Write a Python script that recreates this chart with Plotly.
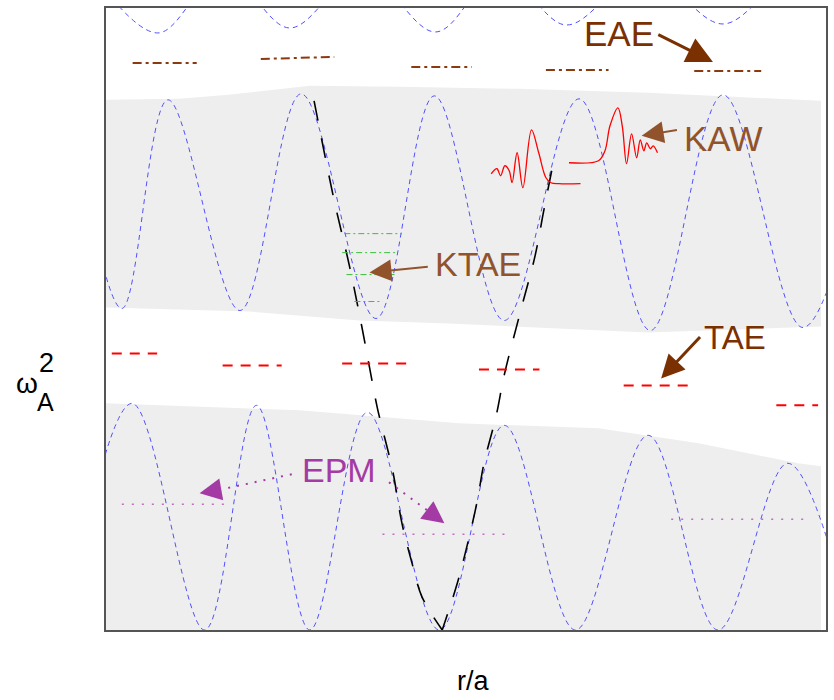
import plotly.graph_objects as go

# ---- Alfven continuum sketch: r/a on x, omega_A^2 (arbitrary units) on y ----

# shaded continuum bands (boundaries)
upper_band_top_x = [0.0, 0.102, 0.170, 0.230, 0.283, 0.407, 0.573, 0.753, 0.993]
upper_band_top_y = [5.31, 5.32, 5.36, 5.41, 5.45, 5.44, 5.42, 5.38, 5.30]
upper_band_bot_x = [0.0, 0.199, 0.352, 0.476, 0.753, 0.993]
upper_band_bot_y = [3.23, 3.19, 3.10, 3.07, 2.98, 3.04]
lower_band_top_x = [0.0, 0.269, 0.490, 0.684, 0.823, 0.961, 0.993]
lower_band_top_y = [2.27, 2.20, 2.07, 2.02, 1.87, 1.67, 1.64]
lower_band_bot_x = [0.0, 0.993]
lower_band_bot_y = [0.0, 0.0]

# continuum branches (extrema of each oscillating branch)
top_branch_x = [-0.021, 0.072, 0.163, 0.255, 0.356, 0.458, 0.548, 0.639, 0.748, 0.857, 0.961, 1.058]
top_branch_y = [6.60, 5.98, 6.60, 6.03, 6.60, 5.99, 6.60, 6.06, 6.60, 6.07, 6.60, 6.10]
mid_branch_x = [-0.050, 0.022, 0.086, 0.186, 0.271, 0.375, 0.456, 0.553, 0.657, 0.756, 0.857, 0.968, 1.072]
mid_branch_y = [5.30, 3.22, 5.31, 3.20, 5.37, 3.12, 5.35, 3.10, 5.32, 3.00, 5.36, 3.03, 5.35]
low_branch_x = [-0.057, 0.036, 0.137, 0.209, 0.283, 0.363, 0.463, 0.553, 0.652, 0.753, 0.850, 0.947, 1.037]
low_branch_y = [0.0, 2.27, 0.0, 2.25, 0.0, 2.18, 0.0, 2.05, 0.0, 1.95, 0.0, 1.67, 0.0]

# kinetic (KAW) dispersion branches
kin_left_x = [0.289, 0.317, 0.338, 0.355, 0.366, 0.377, 0.398, 0.411, 0.425, 0.439, 0.467]
kin_left_y = [5.30, 4.30, 3.65, 3.05, 2.63, 2.22, 1.60, 1.07, 0.67, 0.33, 0.0]
kin_right_x = [0.619, 0.608, 0.596, 0.576, 0.553, 0.542, 0.525, 0.515, 0.500, 0.488, 0.467]
kin_right_y = [4.60, 4.20, 3.75, 3.20, 2.55, 2.15, 1.67, 1.27, 0.80, 0.47, 0.0]

# discrete eigenmode levels: (x start, x end, y)
eae_levels = [(0.037, 0.126, 5.68, 5.68), (0.215, 0.317, 5.72, 5.74), (0.424, 0.508, 5.64, 5.64),
              (0.611, 0.698, 5.61, 5.61), (0.817, 0.910, 5.60, 5.60)]
tae_levels = [(0.008, 0.071, 2.77), (0.162, 0.244, 2.65), (0.328, 0.417, 2.67),
              (0.518, 0.602, 2.61), (0.719, 0.809, 2.45), (0.931, 0.989, 2.25)]
ktae_levels = [(0.331, 0.411, 3.97), (0.328, 0.403, 3.78), (0.334, 0.403, 3.56), (0.345, 0.384, 3.29)]
epm_levels = [(0.022, 0.165, 1.26), (0.384, 0.560, 0.96), (0.785, 0.971, 1.11)]

# kinetic Alfven wave packets
kaw1_x = [0.535, 0.543, 0.548, 0.554, 0.560, 0.564, 0.571, 0.579, 0.591, 0.601, 0.611, 0.618, 0.629, 0.659]
kaw1_y = [4.57, 4.62, 4.55, 4.65, 4.60, 4.48, 4.78, 4.43, 5.01, 4.78, 4.53, 4.48, 4.47, 4.47]
kaw2_x = [0.643, 0.684, 0.693, 0.700, 0.711, 0.717, 0.723, 0.730, 0.737, 0.742, 0.747, 0.751, 0.756, 0.760, 0.766]
kaw2_y = [4.68, 4.70, 4.80, 5.05, 5.23, 5.05, 4.67, 4.97, 4.73, 4.91, 4.80, 4.88, 4.82, 4.85, 4.78]

GRAY = "rgb(238,238,238)"
BLUE = "rgb(80,80,255)"
BROWN = "#7a3000"
LBROWN = "#91532b"
MAGENTA = "#a43aa4"

fig = go.Figure()


def band(top_x, top_y, bot_x, bot_y):
    xs = list(top_x) + list(reversed(bot_x))
    ys = list(top_y) + list(reversed(bot_y))
    fig.add_trace(go.Scatter(x=xs, y=ys, mode="lines", fill="toself", fillcolor=GRAY,
                             line=dict(width=0, color=GRAY), hoverinfo="skip", showlegend=False))


band(upper_band_top_x, upper_band_top_y, upper_band_bot_x, upper_band_bot_y)
band(lower_band_top_x, lower_band_top_y, lower_band_bot_x, lower_band_bot_y)

for bx, by in [(top_branch_x, top_branch_y), (mid_branch_x, mid_branch_y), (low_branch_x, low_branch_y)]:
    fig.add_trace(go.Scatter(x=bx, y=by, mode="lines", line_shape="spline",
                             line=dict(color=BLUE, width=1, dash="5px,4px"),
                             hoverinfo="skip", showlegend=False))

for kx, ky in [(kin_left_x, kin_left_y), (kin_right_x, kin_right_y)]:
    fig.add_trace(go.Scatter(x=kx, y=ky, mode="lines", line_shape="spline",
                             line=dict(color="black", width=1.6, dash="20px,18px"),
                             hoverinfo="skip", showlegend=False))

for x0, x1, y0, y1 in eae_levels:
    fig.add_trace(go.Scatter(x=[x0, x1], y=[y0, y1], mode="lines",
                             line=dict(color="#8b3a0f", width=2, dash="9px,4px,3px,4px"),
                             hoverinfo="skip", showlegend=False))

for x0, x1, y in tae_levels:
    fig.add_trace(go.Scatter(x=[x0, x1], y=[y, y], mode="lines",
                             line=dict(color="red", width=2, dash="10px,8px"),
                             hoverinfo="skip", showlegend=False))

for x0, x1, y in ktae_levels:
    fig.add_trace(go.Scatter(x=[x0, x1], y=[y, y], mode="lines",
                             line=dict(color="#3cbf3c", width=1, dash="6px,3px,2px,3px"),
                             hoverinfo="skip", showlegend=False))

for x0, x1, y in epm_levels:
    fig.add_trace(go.Scatter(x=[x0, x1], y=[y, y], mode="lines",
                             line=dict(color="#c46cc4", width=1.5, dash="2px,8px"),
                             hoverinfo="skip", showlegend=False))

for wx, wy in [(kaw1_x, kaw1_y), (kaw2_x, kaw2_y)]:
    fig.add_trace(go.Scatter(x=wx, y=wy, mode="lines", line_shape="spline",
                             line=dict(color="red", width=1.3),
                             hoverinfo="skip", showlegend=False))

# dotted shafts of the EPM pointers
epm_shafts = [([0.258, 0.161], [1.56, 1.41]), ([0.393, 0.446], [1.48, 1.20])]
for sx, sy in epm_shafts:
    fig.add_trace(go.Scatter(x=sx, y=sy, mode="lines",
                             line=dict(color=MAGENTA, width=2, dash="2px,7px"),
                             hoverinfo="skip", showlegend=False))

FONT = "Liberation Sans, Arial, sans-serif"

labels = [
    ("EAE", 0.712, 5.97, BROWN, 35),
    ("KAW", 0.857, 4.925, LBROWN, 35),
    ("KTAE", 0.517, 3.67, LBROWN, 34),
    ("TAE", 0.873, 2.925, BROWN, 33),
    ("EPM", 0.323, 1.605, MAGENTA, 34),
]
for txt, x, y, col, size in labels:
    fig.add_annotation(x=x, y=y, xref="x", yref="y", text=txt, showarrow=False,
                       font=dict(family=FONT, size=size, color=col),
                       xanchor="center", yanchor="middle")

# pointers: (tail x, tail y, tip x, tip y, colour, shaft width, head scale)
pointers = [
    (0.765, 5.97, 0.843, 5.69, BROWN, 3, 1.75),
    (0.795, 5.01, 0.744, 4.95, LBROWN, 2, 2.2),
    (0.449, 3.64, 0.366, 3.58, LBROWN, 2, 2.2),
    (0.827, 2.95, 0.771, 2.52, BROWN, 3, 1.55),
    (0.161, 1.41, 0.130, 1.37, MAGENTA, 2, 2.2),
    (0.446, 1.20, 0.470, 1.07, MAGENTA, 2, 2.2),
]
for tx, ty, hx, hy, col, w, s in pointers:
    fig.add_annotation(x=hx, y=hy, ax=tx, ay=ty, xref="x", yref="y", axref="x", ayref="y",
                       text="", showarrow=True, arrowhead=2, arrowwidth=w, arrowsize=s,
                       arrowcolor=col)

# axis labels
fig.add_annotation(x=0.510, y=-0.082, xref="paper", yref="paper", text="r/a", showarrow=False,
                   font=dict(family=FONT, size=27, color="black"), xanchor="center", yanchor="middle")
fig.add_annotation(x=-0.110, y=0.396, xref="paper", yref="paper", text="ω", showarrow=False,
                   font=dict(family=FONT, size=28, color="black"), xanchor="center", yanchor="middle")
fig.add_annotation(x=-0.084, y=0.366, xref="paper", yref="paper", text="A", showarrow=False,
                   font=dict(family=FONT, size=25, color="black"), xanchor="center", yanchor="middle")
fig.add_annotation(x=-0.082, y=0.430, xref="paper", yref="paper", text="2", showarrow=False,
                   font=dict(family=FONT, size=27, color="black"), xanchor="center", yanchor="middle")

axis_common = dict(showgrid=False, zeroline=False, showticklabels=False, ticks="",
                   showline=True, mirror=True, linecolor="#555555", linewidth=1.5, fixedrange=True)
fig.update_xaxes(range=[0, 1], **axis_common)
fig.update_yaxes(range=[0, 6.23], **axis_common)

fig.update_layout(width=834, height=700, margin=dict(l=106, r=6, t=7, b=70),
                  plot_bgcolor="white", paper_bgcolor="white", showlegend=False)

fig.write_html("out.html")
